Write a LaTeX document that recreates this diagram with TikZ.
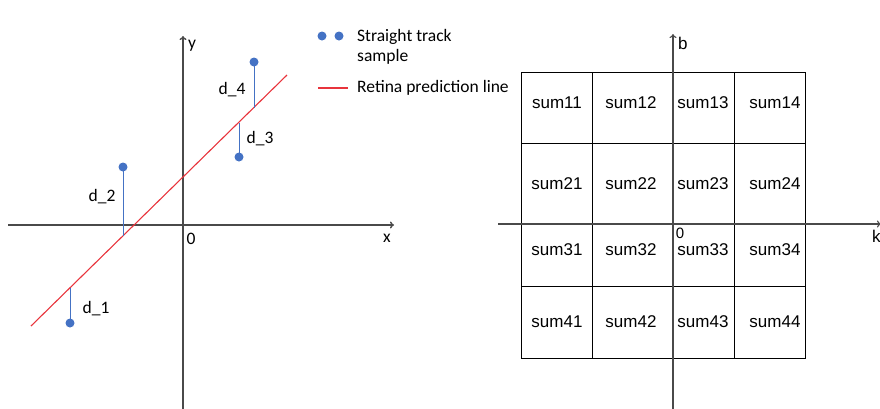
\documentclass[tikz,border=0pt]{standalone}
\usepackage{fontspec}
\setmainfont{Carlito}
\newfontfamily\arial{Liberation Sans}
\usetikzlibrary{arrows.meta}
\definecolor{ptblue}{HTML}{4472C4}
\definecolor{predred}{HTML}{E8343C}
\definecolor{axisgray}{HTML}{4A4A4A}
\begin{document}
\begin{tikzpicture}[x=1pt,y=-1pt,
  axis/.style={draw=axisgray,line width=1.4pt,-{To[length=4pt,width=7pt]}},
  raxis/.style={draw=axisgray,line width=1.1pt,-{To[length=4pt,width=7pt]}},
  pt/.style={circle,fill=ptblue,inner sep=0pt,minimum size=9pt},
  dist/.style={draw=ptblue,line width=0.8pt},
  pred/.style={draw=predred,line width=1.1pt},
  lbl/.style={font=\fontsize{17.5}{20}\selectfont,inner sep=0pt},
  cell/.style={font=\arial\fontsize{17}{20}\selectfont,inner sep=0pt},
  gridline/.style={draw=black,line width=1pt}]
\clip (0,0) rectangle (880,408);
% ---------- left plot ----------
\coordinate (xl) at (8,225);
\coordinate (xr) at (394,225);
\coordinate (yb) at (183,410);
\coordinate (yt) at (183,36);
\draw[axis] (xl) -- (xr);
\draw[axis] (yb) -- (yt);
\node[lbl,anchor=west] (ylab) at (188,46) {y};
\node[lbl] (xlab) at (387,238) {x};
\node[lbl] (zero) at (191,239) {0};
\coordinate (la) at (31,326);
\coordinate (lb) at (287,75);
\draw[pred] (la) -- (lb);
\node[pt] (p1) at (70,323) {};
\node[pt] (p2) at (123,167) {};
\node[pt] (p3) at (239,157) {};
\node[pt] (p4) at (254,62) {};
\coordinate (f1) at (70,288);
\coordinate (f2) at (123,236);
\coordinate (f3) at (239,123);
\coordinate (f4) at (254,108);
\draw[dist] (p1.center) -- (f1);
\draw[dist] (p2.center) -- (f2);
\draw[dist] (p3.center) -- (f3);
\draw[dist] (p4.center) -- (f4);
\node[lbl] (d1) at (96,309) {d\_1};
\node[lbl] (d2) at (102,197) {d\_2};
\node[lbl] (d3) at (260,139) {d\_3};
\node[lbl] (d4) at (232,90) {d\_4};
% ---------- legend ----------
\node[pt] (lg1) at (322,36) {};
\node[pt] (lg2) at (339,36) {};
\node[lbl,anchor=west,align=left] (lgt1) at (357,47) {Straight track\\sample};
\coordinate (lr1) at (318,88);
\coordinate (lr2) at (348,88);
\draw[pred] (lr1) -- (lr2);
\node[lbl,anchor=west] (lgt2) at (357,88) {Retina prediction line};
% ---------- right grid ----------
\draw[gridline] (521,72) rectangle (805,358);
\draw[gridline] (592,72) -- (592,358);
\draw[gridline] (734,72) -- (734,358);
\draw[gridline] (521,143) -- (805,143);
\draw[gridline] (521,286) -- (805,286);
\coordinate (kl) at (498,224);
\coordinate (kr) at (881,224);
\coordinate (bb) at (673,410);
\coordinate (bt) at (673,34);
\draw[raxis] (kl) -- (kr);
\draw[raxis] (bb) -- (bt);
\node[cell,anchor=west] (blab) at (678,43) {b};
\node[cell,anchor=west] (klab) at (872,236) {k};
\node[cell,font=\arial\fontsize{15}{18}\selectfont] (rzero) at (680,233) {0};
\foreach \r/\y in {1/103,2/184,3/250,4/322}{
  \foreach \c/\x in {1/557,2/631,3/703,4/775}{
    \node[cell] (s\r\c) at (\x,\y) {sum\r\c};
  }
}
\end{tikzpicture}
\end{document}
